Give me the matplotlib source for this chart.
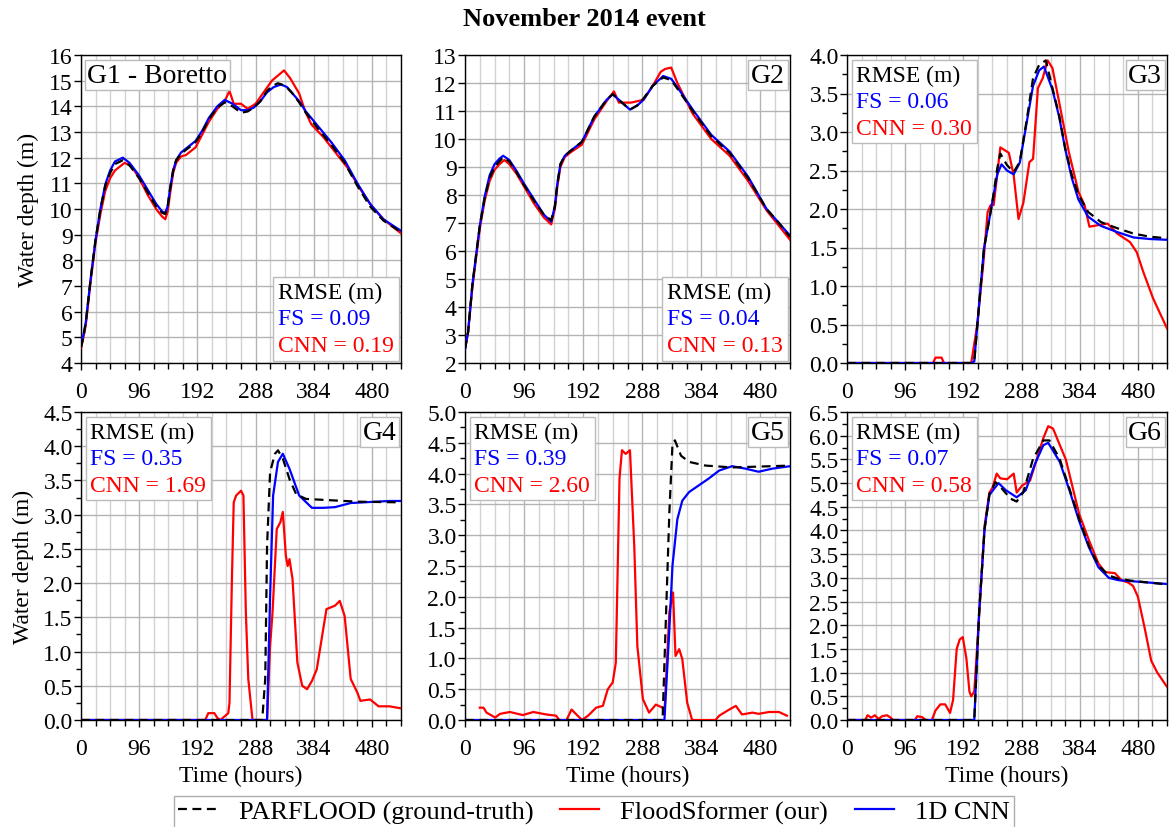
import matplotlib
matplotlib.use("Agg")
import matplotlib.pyplot as plt
from matplotlib.ticker import MultipleLocator, FormatStrFormatter
from matplotlib.offsetbox import TextArea, VPacker, AnchoredOffsetbox

plt.rcParams['font.family'] = ['Liberation Serif', 'DejaVu Serif']
plt.rcParams['font.size'] = 17

# ---- data (time in hours, depth in m) ----
# G1 - Boretto
g1_t_pf = [0, 4, 8, 16, 24, 32, 40, 48, 56, 69, 80, 96, 110, 124, 134, 139, 143, 147, 152, 157, 165, 173, 189, 200, 211, 225, 237, 250, 264, 275, 285, 296, 307, 316, 325, 337, 349, 360, 371, 392, 413, 435, 456, 477, 499, 515, 528]
g1_pf = [4.6, 5.0, 5.6, 7.3, 8.8, 10.0, 10.9, 11.4, 11.75, 11.9, 11.7, 11.2, 10.65, 10.1, 9.85, 9.8, 10.1, 10.8, 11.5, 11.9, 12.15, 12.3, 12.6, 13.0, 13.5, 13.95, 14.15, 14.0, 13.75, 13.8, 13.95, 14.2, 14.6, 14.8, 14.9, 14.8, 14.5, 14.15, 13.75, 13.1, 12.5, 11.8, 10.9, 10.1, 9.55, 9.3, 9.1]
g1_t_fs = [0, 4, 8, 16, 24, 32, 40, 48, 56, 69, 80, 96, 110, 124, 134, 139, 143, 147, 152, 157, 165, 173, 189, 200, 211, 225, 237, 250, 264, 275, 285, 296, 307, 318, 330, 340, 349, 360, 371, 392, 413, 435, 456, 477, 499, 515, 528]
g1_fs = [4.7, 5.1, 5.6, 7.3, 8.8, 10.0, 10.95, 11.5, 11.85, 12.0, 11.8, 11.3, 10.75, 10.2, 9.9, 9.85, 10.1, 10.8, 11.5, 11.9, 12.2, 12.35, 12.65, 13.05, 13.55, 14.0, 14.25, 14.1, 13.85, 13.85, 13.95, 14.2, 14.55, 14.75, 14.85, 14.75, 14.5, 14.2, 13.8, 13.2, 12.6, 11.9, 11.0, 10.2, 9.6, 9.35, 9.15]
g1_t_cnn = [0, 4, 8, 16, 24, 32, 40, 48, 56, 72, 84, 96, 110, 124, 134, 139, 143, 147, 152, 157, 165, 173, 189, 200, 211, 225, 237, 245, 252, 264, 275, 288, 300, 315, 325, 335, 345, 360, 370, 380, 400, 420, 440, 460, 480, 499, 515, 528]
g1_cnn = [4.6, 5.0, 5.5, 7.2, 8.7, 9.8, 10.7, 11.2, 11.5, 11.8, 11.65, 11.2, 10.55, 10.0, 9.7, 9.6, 9.9, 10.6, 11.4, 11.8, 12.05, 12.1, 12.4, 12.9, 13.4, 13.9, 14.2, 14.6, 14.1, 14.1, 13.9, 14.1, 14.5, 15.0, 15.2, 15.4, 15.1, 14.5, 13.8, 13.3, 12.8, 12.2, 11.6, 10.8, 10.1, 9.6, 9.3, 9.05]

# G2
g2_t_pf = [0, 5, 12, 24, 32, 40, 48, 56, 62, 72, 84, 96, 112, 128, 140, 146, 150, 155, 162, 170, 190, 210, 230, 240, 255, 268, 280, 290, 305, 322, 335, 345, 370, 400, 430, 460, 490, 510, 528]
g2_pf = [2.5, 3.1, 4.8, 6.9, 7.9, 8.6, 9.0, 9.2, 9.35, 9.2, 8.8, 8.35, 7.8, 7.3, 7.1, 7.6, 8.4, 9.1, 9.4, 9.55, 9.9, 10.8, 11.4, 11.6, 11.3, 11.05, 11.2, 11.45, 11.9, 12.2, 12.1, 11.8, 11.0, 10.1, 9.5, 8.6, 7.5, 7.0, 6.5]
g2_t_fs = g2_t_pf
g2_fs = [2.5, 3.1, 4.8, 6.9, 7.95, 8.7, 9.1, 9.3, 9.4, 9.25, 8.85, 8.4, 7.85, 7.3, 7.05, 7.6, 8.4, 9.1, 9.4, 9.55, 9.9, 10.8, 11.4, 11.6, 11.3, 11.05, 11.2, 11.4, 11.9, 12.25, 12.15, 11.85, 11.05, 10.15, 9.55, 8.65, 7.5, 7.0, 6.55]
g2_t_cnn = [0, 5, 12, 24, 32, 40, 48, 56, 64, 72, 84, 96, 112, 128, 140, 146, 150, 155, 162, 170, 190, 210, 230, 242, 250, 270, 290, 305, 318, 325, 335, 345, 370, 400, 430, 460, 490, 510, 528]
g2_cnn = [2.5, 3.1, 4.7, 6.8, 7.8, 8.5, 8.9, 9.1, 9.25, 9.1, 8.75, 8.3, 7.7, 7.2, 6.95, 7.5, 8.3, 9.0, 9.35, 9.5, 9.8, 10.7, 11.35, 11.7, 11.3, 11.3, 11.4, 11.9, 12.4, 12.5, 12.55, 12.0, 10.9, 10.0, 9.4, 8.5, 7.45, 6.9, 6.4]

# G3
g3_t_pf = [0, 205, 210, 215, 226, 234, 240, 248, 253, 264, 275, 285, 296, 307, 317, 328, 339, 350, 360, 371, 382, 398, 419, 446, 473, 500, 528]
g3_pf = [0, 0, 0.02, 0.49, 1.49, 1.83, 2.1, 2.53, 2.72, 2.57, 2.48, 2.61, 3.13, 3.7, 3.87, 3.93, 3.57, 3.22, 2.79, 2.44, 2.18, 1.96, 1.83, 1.75, 1.68, 1.64, 1.62]
g3_t_fs = [0, 205, 210, 215, 226, 234, 240, 248, 255, 264, 275, 285, 296, 307, 317, 325, 339, 350, 360, 371, 382, 398, 419, 446, 473, 500, 528]
g3_fs = [0, 0, 0.02, 0.49, 1.49, 1.83, 2.1, 2.45, 2.58, 2.5, 2.45, 2.6, 3.1, 3.6, 3.8, 3.85, 3.55, 3.2, 2.78, 2.4, 2.12, 1.9, 1.78, 1.7, 1.63, 1.61, 1.6]
g3_t_cnn = [0, 142, 146, 156, 160, 205, 215, 225, 232, 237, 242, 253, 267, 275, 283, 291, 301, 307, 315, 323, 331, 339, 350, 366, 382, 392, 400, 414, 430, 446, 467, 478, 489, 505, 528]
g3_cnn = [0, 0, 0.07, 0.07, 0, 0, 0.5, 1.3, 1.96, 2.05, 2.05, 2.8, 2.73, 2.44, 1.87, 2.08, 2.61, 2.65, 3.57, 3.7, 3.93, 3.83, 3.39, 2.74, 2.22, 2.05, 1.77, 1.79, 1.81, 1.68, 1.57, 1.44, 1.18, 0.84, 0.45]

# G4
g4_t_pf = [0, 299, 304, 307, 312, 320, 325, 333, 344, 355, 371, 392, 456, 528]
g4_pf = [0, 0, 0.6, 2.55, 3.62, 3.89, 3.94, 3.82, 3.52, 3.3, 3.23, 3.22, 3.19, 3.18]
g4_t_fs = [0, 307, 312, 317, 325, 333, 344, 360, 381, 400, 419, 445, 509, 528]
g4_fs = [0, 0, 1.8, 3.28, 3.77, 3.89, 3.67, 3.28, 3.1, 3.1, 3.11, 3.17, 3.2, 3.2]
g4_t_cnn = [0, 205, 210, 220, 225, 230, 243, 245, 249, 252, 256, 264, 268, 272, 276, 283, 307, 312, 316, 323, 329, 333, 338, 341, 344, 349, 357, 365, 373, 381, 389, 397, 405, 419, 427, 435, 445, 456, 461, 477, 491, 509, 528]
g4_cnn = [0, 0, 0.1, 0.1, 0.03, 0, 0.1, 0.25, 2.06, 3.18, 3.28, 3.35, 3.28, 1.57, 0.6, 0, 0, 1.08, 1.57, 2.79, 2.89, 3.04, 2.4, 2.25, 2.35, 2.06, 0.84, 0.5, 0.45, 0.57, 0.74, 1.18, 1.62, 1.67, 1.74, 1.52, 0.6, 0.4, 0.28, 0.3, 0.2, 0.2, 0.17]

# G5
g5_t_pf = [0, 321, 332, 337, 341, 351, 364, 391, 434, 528]
g5_pf = [0, 0, 3.37, 4.46, 4.54, 4.29, 4.19, 4.13, 4.1, 4.13]
g5_t_fs = [0, 324, 332, 337, 345, 353, 364, 380, 396, 413, 434, 456, 477, 499, 528]
g5_fs = [0, 0, 1.47, 2.5, 3.26, 3.56, 3.7, 3.81, 3.92, 4.05, 4.12, 4.08, 4.03, 4.08, 4.12]
g5_t_cnn = [24, 30, 35, 49, 57, 73, 94, 111, 132, 148, 153, 165, 173, 181, 190, 200, 213, 224, 232, 240, 245, 251, 255, 261, 268, 275, 280, 289, 299, 310, 321, 324, 332, 338, 342, 348, 353, 361, 369, 407, 413, 426, 440, 450, 467, 477, 494, 510, 523]
g5_cnn = [0.2, 0.2, 0.12, 0.04, 0.1, 0.13, 0.08, 0.13, 0.09, 0.07, 0, 0, 0.17, 0.09, 0, 0.07, 0.2, 0.23, 0.5, 0.61, 0.93, 3.92, 4.38, 4.32, 4.38, 2.82, 1.2, 0.34, 0.12, 0.25, 0.2, 0.1, 1.75, 2.07, 1.04, 1.15, 0.99, 0.28, 0, 0, 0.07, 0.15, 0.23, 0.09, 0.12, 0.1, 0.13, 0.13, 0.07]

# G6
g6_t_pf = [0, 210, 218, 227, 235, 245, 253, 270, 280, 291, 307, 324, 334, 351, 367, 383, 399, 415, 432, 448, 469, 528]
g6_pf = [0, 0, 2.27, 4.03, 4.77, 5.02, 4.92, 4.67, 4.61, 4.81, 5.51, 5.9, 5.9, 5.51, 4.88, 4.25, 3.68, 3.26, 3.05, 2.98, 2.94, 2.86]
g6_t_fs = [0, 210, 218, 227, 235, 250, 262, 280, 295, 310, 324, 332, 351, 367, 383, 399, 415, 432, 448, 469, 528]
g6_fs = [0, 0, 2.27, 4.03, 4.75, 5.0, 4.85, 4.7, 4.85, 5.4, 5.8, 5.85, 5.45, 4.85, 4.2, 3.65, 3.22, 3.0, 2.95, 2.93, 2.87]
g6_t_cnn = [0, 30, 34, 40, 46, 52, 58, 66, 72, 76, 112, 116, 124, 130, 140, 146, 154, 162, 170, 175, 181, 186, 191, 197, 202, 205, 210, 218, 227, 235, 240, 247, 253, 264, 275, 280, 289, 302, 313, 324, 332, 340, 348, 361, 383, 399, 415, 426, 442, 453, 464, 472, 480, 491, 502, 512, 528]
g6_cnn = [0, 0, 0.1, 0.05, 0.1, 0.02, 0.08, 0.1, 0.05, 0, 0, 0.08, 0.06, 0, 0, 0.2, 0.33, 0.33, 0.15, 0.42, 1.5, 1.7, 1.75, 1.3, 0.6, 0.5, 0.6, 2.2, 4.1, 4.8, 4.9, 5.2, 5.1, 5.08, 5.2, 4.8, 4.95, 5.05, 5.5, 5.95, 6.2, 6.15, 5.9, 5.5, 4.35, 3.8, 3.3, 3.12, 3.1, 2.95, 2.9, 2.83, 2.6, 1.95, 1.25, 1.0, 0.7]

gauges = [
    ("G1 - Boretto", g1_t_pf, g1_pf, g1_t_fs, g1_fs, g1_t_cnn, g1_cnn, "0.09", "0.19"),
    ("G2", g2_t_pf, g2_pf, g2_t_fs, g2_fs, g2_t_cnn, g2_cnn, "0.04", "0.13"),
    ("G3", g3_t_pf, g3_pf, g3_t_fs, g3_fs, g3_t_cnn, g3_cnn, "0.06", "0.30"),
    ("G4", g4_t_pf, g4_pf, g4_t_fs, g4_fs, g4_t_cnn, g4_cnn, "0.35", "1.69"),
    ("G5", g5_t_pf, g5_pf, g5_t_fs, g5_fs, g5_t_cnn, g5_cnn, "0.39", "2.60"),
    ("G6", g6_t_pf, g6_pf, g6_t_fs, g6_fs, g6_t_cnn, g6_cnn, "0.07", "0.58"),
]
y_lims = [(4, 16), (2, 13), (0, 4), (0, 4.5), (0, 5), (0, 6.5)]
y_steps = [1, 1, 0.5, 0.5, 0.5, 0.5]

W, H = 1169, 828
fig = plt.figure(figsize=(W / 100, H / 100), dpi=100)

# axes boxes in pixels (left, right) and (top, bottom)
cols = [(81, 401), (465, 790), (847, 1167)]
rows = [(56, 364), (413, 721)]
dash = (0, (4, 2.5))

for i, (name, tp, vp, tf, vf, tc, vc, rm_fs, rm_cnn) in enumerate(gauges):
    r, c = divmod(i, 3)
    x0, x1 = cols[c]
    y0, y1 = rows[r]
    ax = fig.add_axes([x0 / W, 1 - y1 / H, (x1 - x0) / W, (y1 - y0) / H])

    ax.plot(tc, vc, color='red', lw=1.6, zorder=3)
    ax.plot(tf, vf, color='blue', lw=1.6, zorder=4)
    ax.plot(tp, vp, color='black', lw=1.6, ls=dash, zorder=5)

    ax.set_xlim(0, 528)
    ax.set_ylim(*y_lims[i])
    ax.xaxis.set_major_locator(MultipleLocator(96))
    ax.xaxis.set_minor_locator(MultipleLocator(24))
    ax.yaxis.set_major_locator(MultipleLocator(y_steps[i]))
    if y_steps[i] < 1:
        ax.yaxis.set_minor_locator(MultipleLocator(y_steps[i] / 2))
        ax.yaxis.set_major_formatter(FormatStrFormatter('%.1f'))
    ax.tick_params(axis='x', which='major', direction='out', length=5, width=1, labelsize=17, pad=8)
    ax.tick_params(axis='x', which='minor', direction='out', length=4, width=1)
    ax.tick_params(axis='y', which='major', direction='out', length=5, width=1, labelsize=17, pad=1)
    ax.tick_params(axis='y', which='minor', direction='out', length=3.5, width=1)
    ax.grid(True, which='major', color='#b4b4b4', lw=1)
    ax.grid(True, which='minor', axis='x', color='#d2d2d2', lw=1)
    ax.set_axisbelow(True)
    for s in ax.spines.values():
        s.set_linewidth(1)

    if c == 0:
        ax.set_ylabel("Water depth (m)", fontsize=17, labelpad=7)
    if r == 1:
        ax.set_xlabel("Time (hours)", fontsize=17, labelpad=4)

    # gauge name box
    if i == 0:
        ax.text(0.02, 0.975, name, transform=ax.transAxes, ha='left', va='top', fontsize=20,
                bbox=dict(boxstyle='square,pad=0.1', fc='white', ec='#bbbbbb', lw=1), zorder=6)
    else:
        ax.text(0.985, 0.975, name, transform=ax.transAxes, ha='right', va='top', fontsize=20,
                bbox=dict(boxstyle='square,pad=0.1', fc='white', ec='#bbbbbb', lw=1), zorder=6)

    # RMSE box
    lines = [TextArea("RMSE (m)", textprops=dict(color='black', fontsize=17)),
             TextArea("FS = " + rm_fs, textprops=dict(color='blue', fontsize=17)),
             TextArea("CNN = " + rm_cnn, textprops=dict(color='red', fontsize=17))]
    pack = VPacker(children=lines, align='left', pad=0, sep=4)
    loc = 'lower right' if i < 2 else 'upper left'
    box = AnchoredOffsetbox(loc=loc, child=pack, pad=0.2,
                            borderpad=0.1 if i < 2 else 0.2, frameon=True)
    box.patch.set_edgecolor('#bbbbbb')
    box.patch.set_linewidth(1)
    box.patch.set_boxstyle('square,pad=0')
    box.set_zorder(6)
    ax.add_artist(box)

fig.suptitle("November 2014 event", fontsize=19, fontweight='bold', y=1 - 8 / H, va='top')

h_pf, = plt.plot([], [], color='black', lw=1.6, ls=dash)
h_fs, = plt.plot([], [], color='red', lw=1.6)
h_cnn, = plt.plot([], [], color='blue', lw=1.6)
leg = fig.legend([h_pf, h_fs, h_cnn],
                 ["PARFLOOD (ground-truth)", "FloodSformer (our)", "1D CNN"],
                 loc='upper center', bbox_to_anchor=(594 / W, 1 - 797 / H), ncol=3,
                 fontsize=19, frameon=True, fancybox=False, edgecolor='#999999',
                 borderpad=0.15, borderaxespad=0, handlelength=1.5, columnspacing=1.0,
                 handletextpad=0.8)
leg.get_frame().set_linewidth(1)

fig.savefig("out.png", dpi=100)
